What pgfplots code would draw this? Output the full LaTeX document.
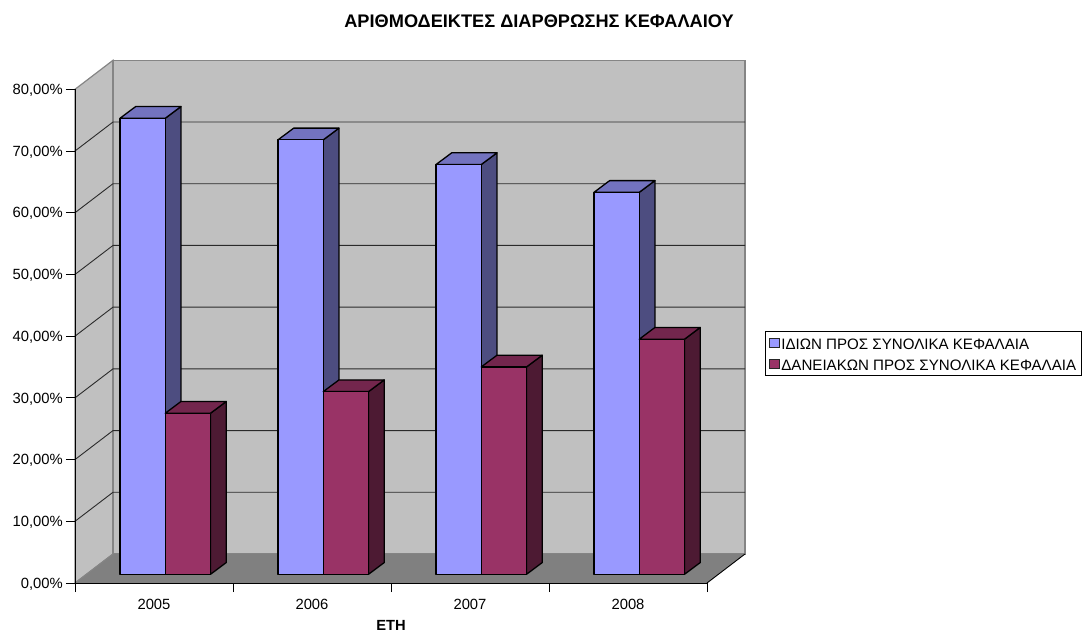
\documentclass[border=0pt]{standalone}
\usepackage{fontspec}
\setmainfont{Liberation Sans}
\usepackage{pgfplots}
\pgfplotsset{compat=1.18}

\definecolor{wall}{HTML}{C0C0C0}
\definecolor{walledge}{HTML}{858585}
\definecolor{floorgray}{HTML}{808080}
\definecolor{gridline}{HTML}{2A2A2A}
\definecolor{blueF}{HTML}{9999FF}
\definecolor{blueT}{HTML}{7373BF}
\definecolor{blueS}{HTML}{4D4D80}
\definecolor{redF}{HTML}{993366}
\definecolor{redT}{HTML}{73264D}
\definecolor{redS}{HTML}{4D1A33}

% depth of the chart box and of a column, in axis units
\def\boxdx{0.2405}
\def\boxdy{4.70}
\def\coldx{0.0994}
\def\coldy{1.896}
\def\colbase{1.41}
\def\colw{0.2864}

% \column{left edge}{value}{front}{top}{side}
\newcommand{\column}[5]{%
  \pgfmathsetmacro\xa{#1}%
  \pgfmathsetmacro\xb{#1+\colw}%
  \pgfmathsetmacro\xc{#1+\colw+\coldx}%
  \pgfmathsetmacro\xd{#1+\coldx}%
  \pgfmathsetmacro\ya{\colbase}%
  \pgfmathsetmacro\yb{\colbase+#2}%
  \pgfmathsetmacro\yc{\colbase+\coldy}%
  \pgfmathsetmacro\yd{\colbase+#2+\coldy}%
  \addplot[forget plot,draw=black,line width=1.3pt,line join=round,fill=#5]
    coordinates {(\xb,\ya)(\xc,\yc)(\xc,\yd)(\xb,\yb)} -- cycle;
  \addplot[forget plot,draw=black,line width=1.3pt,line join=round,fill=#4]
    coordinates {(\xa,\yb)(\xb,\yb)(\xc,\yd)(\xd,\yd)} -- cycle;
  \addplot[forget plot,draw=black,line width=1.3pt,line join=round,fill=#3]
    coordinates {(\xa,\ya)(\xb,\ya)(\xb,\yb)(\xa,\yb)} -- cycle;
}

% one gridline across the side wall and the back wall
\newcommand{\level}[1]{%
  \pgfmathsetmacro\ya{#1}%
  \pgfmathsetmacro\yb{#1+\boxdy}%
  \addplot[forget plot,draw=gridline,line width=0.9pt]
    coordinates {(0,\ya)(\boxdx,\yb)(4.2405,\yb)};
}

\begin{document}
\begin{tikzpicture}[x=1pt,y=1pt]
\path[use as bounding box] (0,0) rectangle (1083,634);
\begin{axis}[
  at={(75pt,51pt)}, anchor=south west,
  scale only axis, width=632pt, height=493.7pt,
  xmin=0, xmax=4, ymin=0, ymax=80,
  clip=false, axis on top,
  axis lines=left, axis line style={-,black,line width=0.9pt},
  tick align=outside,
  xtick={0.5,1.5,2.5,3.5},
  xticklabels={2005,2006,2007,2008},
  minor xtick={0,1,2,3,4},
  major x tick style={draw=none},
  minor x tick style={black,line width=0.9pt},
  minor tick length=9pt,
  ytick={0,10,20,30,40,50,60,70,80},
  yticklabels={{0,00\%},{10,00\%},{20,00\%},{30,00\%},{40,00\%},{50,00\%},{60,00\%},{70,00\%},{80,00\%}},
  y tick style={black,line width=0.9pt},
  major tick length=9pt,
  ticklabel style={font=\fontsize{14.8}{17}\selectfont,inner sep=0pt},
  xticklabel style={yshift=-7pt},
  yticklabel style={xshift=-3pt,yshift=-1pt},
  every axis title shift=0pt,
  title={\bfseries ΑΡΙΘΜΟΔΕΙΚΤΕΣ ΔΙΑΡΘΡΩΣΗΣ ΚΕΦΑΛΑΙΟΥ},
  title style={at={(axis description cs:0.7342,1.1383)},anchor=center,inner sep=0pt,
    font=\fontsize{18.2}{21}\selectfont},
  xlabel={\bfseries ΕΤΗ},
  xlabel style={at={(axis description cs:0.5,-0.0851)},anchor=center,inner sep=0pt,
    font=\fontsize{14.7}{17}\selectfont},
  legend style={at={(axis description cs:1.0918,0.5104)},anchor=north west,
    draw=black,line width=0.7pt,fill=white,
    font=\fontsize{15.1}{17}\selectfont,
    inner xsep=4pt,inner ysep=2.5pt,row sep=3pt,
    nodes={inner sep=1.5pt,text height=14pt,text depth=1pt}},
  legend cell align=left,
  legend image code/.code={%
    \draw[#1,draw=black!85,line width=1pt] (0pt,-4.8pt) rectangle (9.5pt,4.8pt);},
]
% walls and floor of the box
\addplot[forget plot,draw=walledge,line width=1.2pt,fill=wall]
  coordinates {(0,0)(0.2405,4.70)(0.2405,84.70)(0,80)} -- cycle;
\addplot[forget plot,draw=walledge,line width=1.2pt,fill=wall]
  coordinates {(0.2405,4.70)(4.2405,4.70)(4.2405,84.70)(0.2405,84.70)} -- cycle;
\pgfplotsinvokeforeach{10,20,30,40,50,60,70}{\level{#1}}
\addplot[forget plot,draw=none,fill=floorgray]
  coordinates {(0,0)(4,0)(4.2405,4.70)(0.2405,4.70)} -- cycle;
\addplot[forget plot,draw=walledge,line width=1pt]
  coordinates {(0,0)(0.2405,4.70)};
\addplot[forget plot,draw=black,line width=0.9pt]
  coordinates {(4,0)(4.2405,4.70)};

% columns: own capital share, then borrowed capital share
\column{0.2848}{73.9}{blueF}{blueT}{blueS}
\column{0.5712}{26.1}{redF}{redT}{redS}
\column{1.2848}{70.4}{blueF}{blueT}{blueS}
\column{1.5712}{29.6}{redF}{redT}{redS}
\column{2.2848}{66.4}{blueF}{blueT}{blueS}
\column{2.5712}{33.6}{redF}{redT}{redS}
\column{3.2848}{61.9}{blueF}{blueT}{blueS}
\column{3.5712}{38.1}{redF}{redT}{redS}

\addlegendimage{fill=blueF}
\addlegendentry{ΙΔΙΩΝ ΠΡΟΣ ΣΥΝΟΛΙΚΑ ΚΕΦΑΛΑΙΑ}
\addlegendimage{fill=redF}
\addlegendentry{ΔΑΝΕΙΑΚΩΝ ΠΡΟΣ ΣΥΝΟΛΙΚΑ ΚΕΦΑΛΑΙΑ}
\end{axis}
\end{tikzpicture}
\end{document}
